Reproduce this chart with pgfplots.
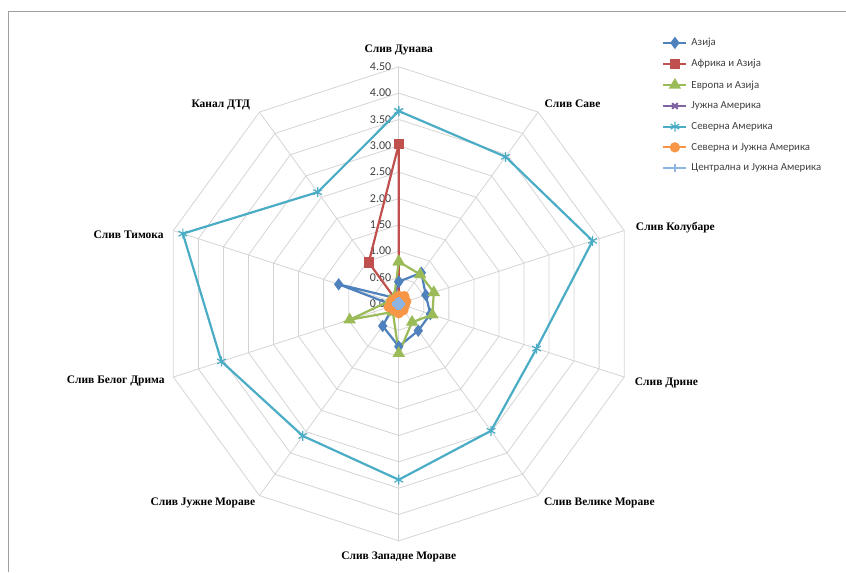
\documentclass[border=0pt]{standalone}
\usepackage{pgfplots}
\usepackage{pgfplotstable}
\pgfplotsset{compat=1.18}
\usepackage{fontspec}
\setmainfont{Liberation Serif}
\newfontfamily\carlito{Carlito}
\definecolor{cAz}{HTML}{4F81BD}
\definecolor{cAf}{HTML}{C0504D}
\definecolor{cEv}{HTML}{9BBB59}
\definecolor{cJu}{HTML}{8064A2}
\definecolor{cSe}{HTML}{4BACC6}
\definecolor{cSJ}{HTML}{F79646}
\definecolor{cCe}{HTML}{8EB4E3}
\definecolor{gridc}{HTML}{D4D4D4}
\definecolor{txt}{HTML}{404040}

% angle: Dunav, Sava, Kolubara, Drina, V.Morava, Z.Morava, J.Morava, B.Drim, Timok, DTD, (closing)
\pgfplotstableread{
angle Azija Afrika Evropa Juzna Severna SevJuz Centr
90    0.42  3.03   0.80   0.02  3.66    0.15   0.05
54    0.73  0.00   0.69   0.02  3.45    0.18   0.05
18    0.54  0.00   0.70   0.02  3.87    0.15   0.05
-18   0.63  0.00   0.67   0.02  2.75    0.12   0.05
-54   0.63  0.00   0.43   0.02  2.98    0.15   0.05
-90   0.81  0.00   0.94   0.02  3.34    0.18   0.05
-126  0.52  0.00   0.19   0.02  3.10    0.15   0.05
-162  0.10  0.00   0.98   0.02  3.54    0.20   0.05
-198  1.20  0.00   0.18   0.02  4.31    0.15   0.05
-234  0.14  0.97   0.15   0.02  2.62    0.12   0.05
-270  0.42  3.03   0.80   0.02  3.66    0.15   0.05
}\radar

\begin{document}
\begin{tikzpicture}
\begin{axis}[
  scale only axis,
  width=846pt, height=572pt,
  xmin=-7.571, xmax=8.482, ymin=-5.085, ymax=5.768,
  axis lines=none,
  clip=false,
  every axis plot/.append style={
    legend image code/.code={\draw[mark repeat=2,mark phase=2,##1] plot coordinates {(0pt,0pt)(11.5pt,0pt)(23pt,0pt)};}
  },
  legend style={draw=none, fill=none, at={(axis cs:5.0,5.08)}, anchor=north west,
    font=\carlito\fontsize{10.8}{12}\selectfont, text=txt, row sep=8.2pt, inner sep=0pt,
    legend cell align=left,
    /tikz/every odd column/.append style={column sep=2pt}},
]
\path (axis cs:-7.571,-5.085) rectangle (axis cs:8.482,5.768);
% grid rings
\pgfplotsinvokeforeach{0.5,1.0,1.5,2.0,2.5,3.0,3.5,4.0,4.5}{
  \addplot[gridc, line width=0.8pt, data cs=polar, forget plot] coordinates {(90,#1)(54,#1)(18,#1)(-18,#1)(-54,#1)(-90,#1)(-126,#1)(-162,#1)(-198,#1)(-234,#1)(-270,#1)};
}
% spokes
\pgfplotsinvokeforeach{90,54,18,-18,-54,-90,-126,-162,-198,-234}{
  \addplot[gridc, line width=0.8pt, data cs=polar, forget plot] coordinates {(#1,0)(#1,4.5)};
}
% frame
\draw[color=gray!75, line width=1pt] (axis cs:-7.419,-5.085) -- (axis cs:-7.419,5.559) -- (axis cs:8.482,5.559);

% tick labels
\begin{scope}[every node/.style={anchor=east, font=\carlito\fontsize{12}{13}\selectfont, text=txt, inner sep=0pt}]
\node at (axis cs:-0.14,0) {0.00};
\node at (axis cs:-0.14,0.5) {0.50};
\node at (axis cs:-0.14,1) {1.00};
\node at (axis cs:-0.14,1.5) {1.50};
\node at (axis cs:-0.14,2) {2.00};
\node at (axis cs:-0.14,2.5) {2.50};
\node at (axis cs:-0.14,3) {3.00};
\node at (axis cs:-0.14,3.5) {3.50};
\node at (axis cs:-0.14,4) {4.00};
\node at (axis cs:-0.14,4.5) {4.50};
\end{scope}

\addplot[cAz, line width=2.2pt, mark=diamond*, mark size=4.4pt, data cs=polar] table[x=angle, y=Azija] {\radar};
\addlegendentry{Азија}
\addplot[cAf, line width=2.2pt, mark=square*, mark size=4pt, data cs=polar] table[x=angle, y=Afrika] {\radar};
\addlegendentry{Африка и Азија}
\addplot[cEv, line width=2.2pt, mark=triangle*, mark size=5pt, data cs=polar] table[x=angle, y=Evropa] {\radar};
\addlegendentry{Европа и Азија}
\addplot[cJu, line width=2.2pt, mark=x, mark size=4pt, data cs=polar] table[x=angle, y=Juzna] {\radar};
\addlegendentry{Јужна Америка}
\addplot[cSe, line width=2.2pt, mark=asterisk, mark size=5pt, mark options={line width=1.2pt}, data cs=polar] table[x=angle, y=Severna] {\radar};
\addlegendentry{Северна Америка}
\addplot[cSJ, line width=2.2pt, mark=*, mark size=4pt, data cs=polar] table[x=angle, y=SevJuz] {\radar};
\addlegendentry{Северна и Јужна Америка}
\addplot[cCe, line width=2.2pt, mark=+, mark size=4pt, data cs=polar] table[x=angle, y=Centr] {\radar};
\addlegendentry{Централна и Јужна Америка}

% category labels
\begin{scope}[every node/.style={font=\bfseries\fontsize{11.5}{12}\selectfont, inner sep=0pt}]
\node at (axis cs:0,4.82) {Слив Дунава};
\node at (axis cs:3.30,3.80) {Слив Саве};
\node[anchor=west] at (axis cs:4.50,1.44) {Слив Колубаре};
\node[anchor=west] at (axis cs:4.48,-1.50) {Слив Дрине};
\node at (axis cs:3.81,-3.78) {Слив Велике Мораве};
\node at (axis cs:0,-4.80) {Слив Западне Мораве};
\node at (axis cs:-3.72,-3.78) {Слив Јужне Мораве};
\node[anchor=east] at (axis cs:-4.44,-1.46) {Слив Белог Дрима};
\node[anchor=east] at (axis cs:-4.46,1.31) {Слив Тимока};
\node at (axis cs:-3.38,3.78) {Канал ДТД};
\end{scope}
\end{axis}
\end{tikzpicture}
\end{document}
